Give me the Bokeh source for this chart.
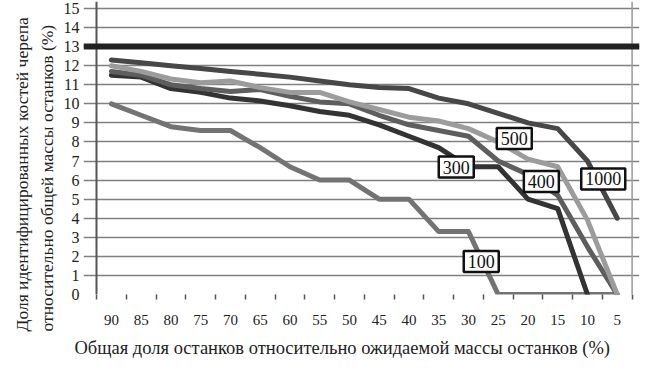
import math
from bokeh.plotting import figure
from bokeh.models import FixedTicker, Span, Title, Label, Range1d
from bokeh.embed import file_html
from bokeh.resources import INLINE

nan = math.nan

categories = ["90", "85", "80", "75", "70", "65", "60", "55", "50", "45",
              "40", "35", "30", "25", "20", "15", "10", "5"]
s100 = [10.0, 9.4, 8.8, 8.6, 8.6, 7.7, 6.7, 6.0, 6.0, 5.0, 5.0, 3.3, 3.3, 0, 0, 0, 0, 0]
s300 = [11.5, 11.4, 10.8, 10.6, 10.3, 10.15, 9.9, 9.6, 9.4, 8.9, 8.3, 7.7, 6.7, 6.7, 5.0, 4.5, 0, nan]
s400 = [11.7, 11.5, 11.0, 10.8, 10.65, 10.75, 10.4, 10.1, 10.0, 9.4, 8.9, 8.6, 8.3, 7.0, 6.3, 5.2, 2.5, 0]
s500 = [12.0, 11.7, 11.3, 11.1, 11.2, 10.85, 10.6, 10.6, 10.1, 9.7, 9.3, 9.1, 8.7, 8.0, 7.1, 6.7, 3.9, 0]
s1000 = [12.3, 12.15, 12.0, 11.85, 11.7, 11.55, 11.4, 11.2, 11.0, 10.85, 10.8, 10.3, 10.0, 9.5, 9.0, 8.7, 7.0, 4.0]
threshold = 13
y_ticks = list(range(0, 16))

series_names = ["100", "300", "400", "500", "1000"]
series_values = [s100, s300, s400, s500, s1000]
series_colors = ["#737373", "#333333", "#5e5e5e", "#9c9c9c", "#474747"]

# data-label anchors (category position, value)
label_names = ["100", "300", "400", "500", "1000"]
label_pos = [12.43, 11.59, 14.45, 13.54, 16.53]
label_val = [1.73, 6.68, 5.93, 8.18, 6.06]

FONT = "Liberation Serif"
n = len(categories)
xs = list(range(n))

p = figure(width=641, height=366, output_backend="svg", toolbar_location=None,
           x_range=Range1d(-0.5 - 13 / 29.76, n - 0.5 + 7.4 / 29.76),
           y_range=Range1d(0, 15 + 7 / 19.13),
           min_border_left=83, min_border_right=2, min_border_top=1, min_border_bottom=70)
p.outline_line_color = None
p.background_fill_color = "white"
p.xgrid.visible = False
p.ygrid.ticker = FixedTicker(ticks=y_ticks)
p.ygrid.bounds = (-0.6, n - 0.5)
p.ygrid.grid_line_color = "#808080"
p.ygrid.grid_line_width = 1.5

# axis frame lines
p.add_layout(Span(location=-0.5, dimension="height", line_color="#555555", line_width=2))
p.add_layout(Span(location=n - 0.5, dimension="height", line_color="#9a9a9a", line_width=1.5))

# x axis
p.xaxis.ticker = FixedTicker(ticks=xs, minor_ticks=[i - 0.5 for i in range(n + 1)])
p.xaxis.major_label_overrides = {i: c for i, c in enumerate(categories)}
p.xaxis.axis_line_color = None
p.xaxis.major_tick_out = 0
p.xaxis.major_tick_in = 0
p.xaxis.minor_tick_out = 5
p.xaxis.minor_tick_in = 0
p.xaxis.minor_tick_line_color = "#555555"
p.xaxis.minor_tick_line_width = 1.5
p.xaxis.major_label_standoff = 15
p.xaxis.major_label_text_font = FONT
p.xaxis.major_label_text_font_size = "15px"
p.xaxis.major_label_text_color = "#222222"

# y axis
p.yaxis.ticker = FixedTicker(ticks=y_ticks)
p.yaxis.axis_line_color = None
p.yaxis.major_tick_out = 0
p.yaxis.major_tick_in = 0
p.yaxis.minor_tick_line_color = None
p.yaxis.major_label_standoff = 4
p.yaxis.major_label_text_font = FONT
p.yaxis.major_label_text_font_size = "16px"
p.yaxis.major_label_text_color = "#222222"

for name, vals, col in zip(series_names, series_values, series_colors):
    p.line(xs, vals, line_color=col, line_width=5, line_join="round", line_cap="round")

p.add_layout(Span(location=threshold, dimension="width", line_color="#222222", line_width=6))

for t, lx, ly in zip(label_names, label_pos, label_val):
    p.add_layout(Label(x=lx, y=ly, text=t, text_align="center",
                       text_baseline="middle", text_font=FONT, text_font_size="18px",
                       text_color="#111111", background_fill_color="white",
                       border_line_color="#111111", border_line_width=2.5, padding=4))

p.add_layout(Title(text="Общая доля останков относительно ожидаемой массы останков (%)",
                   align="left", offset=-9, text_font=FONT, text_font_style="normal",
                   text_font_size="18.5px", text_color="#222222", standoff=17), "below")
p.add_layout(Title(text="относительно общей массы останков (%)",
                   align="left", offset=-37, text_font=FONT, text_font_style="normal",
                   text_font_size="17.5px", text_color="#222222", standoff=7), "left")
p.add_layout(Title(text="Доля идентифицированных костей черепа",
                   align="left", offset=-37, text_font=FONT, text_font_style="normal",
                   text_font_size="17.5px", text_color="#222222", standoff=0), "left")

open("out.html", "w").write(file_html(p, INLINE))
